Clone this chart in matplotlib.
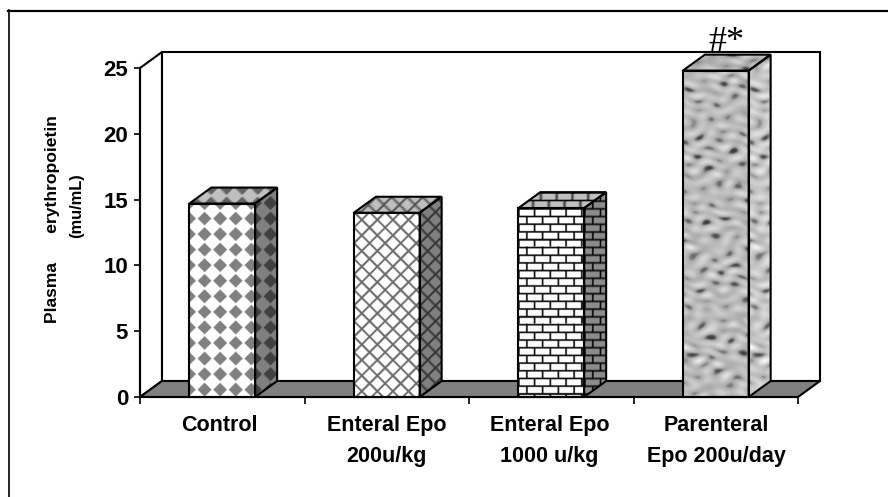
import numpy as np
import matplotlib
matplotlib.use("Agg")
import matplotlib.pyplot as plt
from matplotlib.lines import Line2D
from matplotlib.patches import Polygon
from matplotlib.transforms import Affine2D

categories = ["Control", "Enteral Epo\n200u/kg", "Enteral Epo\n1000 u/kg", "Parenteral\nEpo 200u/day"]
values = [14.7, 14.0, 14.35, 24.8]
patterns = ["diamond", "cross", "brick", "granite"]
y_ticks = [0, 5, 10, 15, 20, 25]
label_pos = [0.485, 1.5, 2.49, 3.505]

W, H = 888, 497
plt.rcParams["font.family"] = ["Liberation Sans"]
plt.rcParams["font.weight"] = "bold"

fig = plt.figure(figsize=(W / 100, H / 100), dpi=100)
ax = fig.add_axes([140 / W, 1 - 397 / H, 658 / W, 329 / H])
PX_X = 658 / 4
PX_Y = 329 / 25
DX_PX = 22
DY_PX = 16
DX = DX_PX / PX_X
DY = DY_PX / PX_Y
BAR_W = 0.4
LW = 1.5


def diamond(u, v):
    p = 15.5
    du = (u + 0.5 * p) % p - 0.5 * p
    dv = (v + 0.5 * p) % p - 0.5 * p
    g = np.ones_like(u)
    g[np.abs(du) + np.abs(dv) < 0.45 * p] = 0.5
    return g


def cross(u, v):
    p = 15.5
    a = np.abs((u + v + 0.5 * p) % p - 0.5 * p)
    b = np.abs((u - v + 0.5 * p) % p - 0.5 * p)
    g = np.ones_like(u)
    g[(a < 1.4) | (b < 1.4)] = 0.42
    return g


def brick(u, v):
    h = 7.7
    w = 15.7
    row = np.floor(v / h)
    g = np.ones_like(u)
    g[(v % h) < 1.7] = 0.05
    g[((u + row * w / 2) % w) < 1.7] = 0.05
    return g


def granite(u, v):
    # fixed sum of waves with a warp, gives a mottled stone look
    x = 0.5 * u + 0.8 * np.sin(v * 0.19 + 0.7) + 0.6 * np.sin(v * 0.073 + u * 0.11)
    y = 0.8 * v + 0.9 * np.sin(u * 0.23 + 1.9) + 0.7 * np.sin(u * 0.087 - v * 0.13)
    waves = [(0.31, 0.62, 0.4), (-0.27, 0.71, 1.9), (0.53, 0.33, 2.7), (0.19, -0.83, 4.1),
             (-0.47, -0.41, 5.3), (0.71, 0.17, 0.9), (0.11, 0.47, 3.3), (-0.61, 0.29, 1.3)]
    n = sum(np.sin(a * x + b * y + c) for a, b, c in waves) / 2.2
    g = 0.73 + 0.06 * n
    g = g - 0.22 * np.clip(-n - 1.0, 0, 1.5)
    return np.clip(g, 0.25, 0.95)


TEX = {"diamond": diamond, "cross": cross, "brick": brick, "granite": granite}
SHADE = {"diamond": (1, 0.5, 0.75), "cross": (1, 0.5, 0.75), "brick": (1, 0.55, 0.75), "granite": (1, 1.06, 0.95)}


def face(origin, e1, e2, w_px, h_px, func, shade, z, su=0.0, sv=0.0):
    # image is mapped on the parallelogram origin, e1, e2 in data coordinates
    # su, sv undo the shear so the pattern stays upright on screen
    nx, ny = int(w_px * 3), int(h_px * 3)
    u, v = np.meshgrid((np.arange(nx) + 0.5) / 3, (np.arange(ny) + 0.5) / 3)
    tex = np.clip(func(u + su * v, v + sv * u) * shade, 0, 1)
    m = np.array([[e1[0], e2[0], origin[0]], [e1[1], e2[1], origin[1]], [0, 0, 1]])
    im = ax.imshow(tex, extent=(0, 1, 1, 0), origin="upper", cmap="gray", vmin=0, vmax=1,
                   aspect="auto", interpolation="bilinear", zorder=z,
                   transform=Affine2D(m) + ax.transData)
    pts = [origin, (origin[0] + e1[0], origin[1] + e1[1]),
           (origin[0] + e1[0] + e2[0], origin[1] + e1[1] + e2[1]),
           (origin[0] + e2[0], origin[1] + e2[1])]
    ax.add_patch(Polygon(pts, closed=True, fill=False, ec="black", lw=LW, joinstyle="miter",
                         zorder=z + 0.1, clip_on=False))
    im.set_clip_box(fig.bbox)
    im.set_clip_path(Polygon(pts, closed=True, transform=ax.transData))


# walls and floor
ax.add_patch(Polygon([(0, 0), (DX, DY), (DX, 25 + DY), (0, 25)], fc="white", ec="black", lw=LW, zorder=1, clip_on=False))
ax.add_patch(Polygon([(DX, DY), (4 + DX, DY), (4 + DX, 25 + DY), (DX, 25 + DY)], fc="white", ec="black", lw=LW, zorder=1, clip_on=False))
ax.add_patch(Polygon([(0, 0), (4, 0), (4 + DX, DY), (DX, DY)], fc="#808080", ec="black", lw=LW, zorder=2, clip_on=False))

# bars
for i, (val, pat) in enumerate(zip(values, patterns)):
    left = i + 0.5 - BAR_W / 2
    right = left + BAR_W
    func = TEX[pat]
    s_front, s_side, s_top = SHADE[pat]
    z = 3 + i
    h_px = val * PX_Y
    w_px = BAR_W * PX_X
    face((left, val), (BAR_W, 0), (0, -val), w_px, h_px, func, s_front, z)
    # side: s runs along depth, t runs down
    face((right, val), (DX, DY), (0, -val), DX_PX, h_px, func, s_side, z, sv=-DY_PX / DX_PX)
    # top: s runs along width, t runs from back to front
    face((left + DX, val + DY), (BAR_W, 0), (-DX, -DY), w_px, DY_PX, func, s_top, z, su=-DX_PX / DY_PX)

ax.text(3.5 + 0.065, 24.8 + DY + 0.3, "#*", family="Liberation Serif", fontweight="normal", fontsize=26,
        ha="center", va="baseline", zorder=10, clip_on=False)

# axes
ax.set_xlim(0, 4)
ax.set_ylim(0, 25)
ax.patch.set_visible(False)
for s in ["top", "right"]:
    ax.spines[s].set_visible(False)
for s in ["left", "bottom"]:
    ax.spines[s].set_linewidth(LW)
    ax.spines[s].set_zorder(9)
ax.set_yticks(y_ticks)
ax.tick_params(axis="y", labelsize=16, length=4.5, width=1.2, pad=4)
ax.set_xticks(range(5))
ax.set_xticklabels([])
ax.tick_params(axis="x", which="major", length=5, width=1.2)
ax.set_xticks(label_pos, minor=True)
ax.set_xticklabels(categories, minor=True, fontsize=15.5, linespacing=1.65)
ax.tick_params(axis="x", which="minor", length=0, pad=13)

fig.text(52.5 / W, 1 - 219 / H, "Plasma      erythropoietin", rotation=90, fontsize=12.6, ha="center", va="center")
fig.text(76.5 / W, 1 - 206 / H, "(mu/mL)", rotation=90, fontsize=11.8, ha="center", va="center")

# outer frame, only top and left
fig.add_artist(Line2D([8 / W, 1], [1 - 10.5 / H, 1 - 10.5 / H], color="black", lw=1.6))
fig.add_artist(Line2D([8.5 / W, 8.5 / W], [0, 1 - 10 / H], color="black", lw=1.2))

fig.savefig("out.png", dpi=100)
